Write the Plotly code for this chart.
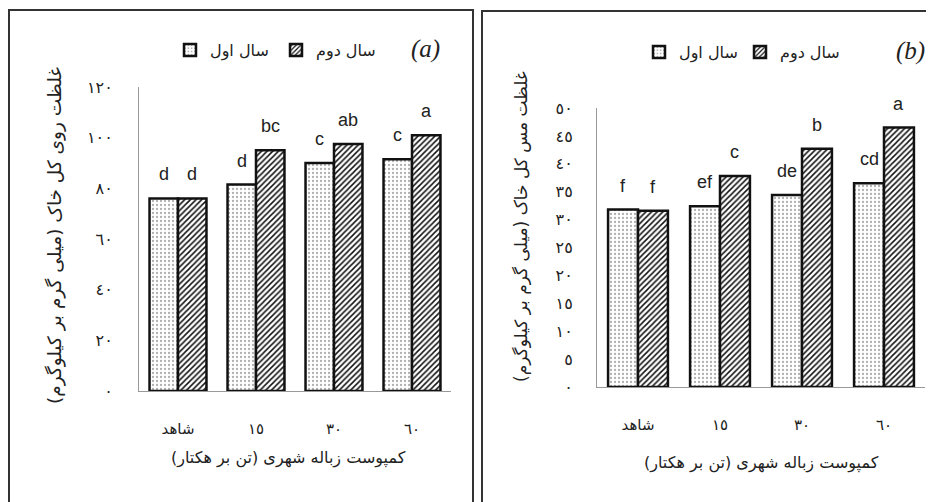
import plotly.graph_objects as go

# ---------------- data ----------------
categories = ["شاهد", "١٥", "٣٠", "٦٠"]
series_names = ["سال اول", "سال دوم"]

zn_year1 = [76, 81.5, 90, 91.5]
zn_year2 = [76, 95, 97.5, 101]
zn_letters_y1 = ["d", "d", "c", "c"]
zn_letters_y2 = ["d", "bc", "ab", "a"]

cu_year1 = [31.8, 32.4, 34.4, 36.5]
cu_year2 = [31.6, 37.8, 42.7, 46.5]
cu_letters_y1 = ["f", "ef", "de", "cd"]
cu_letters_y2 = ["f", "c", "b", "a"]

zn_tickvals = [0, 20, 40, 60, 80, 100, 120]
zn_ticktext = ["٠", "٢٠", "٤٠", "٦٠", "٨٠", "١٠٠", "١٢٠"]
cu_tickvals = [0, 5, 10, 15, 20, 25, 30, 35, 40, 45, 50]
cu_ticktext = ["٠", "٥", "١٠", "١٥", "٢٠", "٢٥", "٣٠", "٣٥", "٤٠", "٤٥", "٥٠"]

zn_ytitle = "غلظت روی کل خاک (میلی گرم بر کیلوگرم)"
cu_ytitle = "غلظت مس کل خاک (میلی گرم بر کیلوگرم)"
xtitle = "کمپوست زباله شهری (تن بر هکتار)"

# ---------------- layout constants ----------------
W, H = 934, 502
OX, OY = 8, 8          # page offset of the plot div
BARGAP = 0.27
FA_FONT = "DejaVu Sans"

def px(x):
    return (x - OX) / W

def py(y):
    return 1 - (y - OY) / H

xs = list(range(len(categories)))
off = (1 - BARGAP) / 4

style1 = dict(color="white",
              line=dict(color="#111", width=2.5),
              pattern=dict(shape=".", fgcolor="#b0b0b0", bgcolor="white", size=4, solidity=0.25))
style2 = dict(color="white",
              line=dict(color="#111", width=2.5),
              pattern=dict(shape="/", fgcolor="#111", bgcolor="white", size=4, solidity=0.38))

fig = go.Figure()

panels = [
    dict(xa="x", ya="y", legend="legend", y1=zn_year1, y2=zn_year2,
         l1=zn_letters_y1, l2=zn_letters_y2),
    dict(xa="x2", ya="y2", legend="legend2", y1=cu_year1, y2=cu_year2,
         l1=cu_letters_y1, l2=cu_letters_y2),
]

for p in panels:
    fig.add_trace(go.Bar(x=xs, y=p["y1"], name=series_names[0], marker=style1,
                         xaxis=p["xa"], yaxis=p["ya"], legend=p["legend"]))
    fig.add_trace(go.Bar(x=xs, y=p["y2"], name=series_names[1], marker=style2,
                         xaxis=p["xa"], yaxis=p["ya"], legend=p["legend"]))

annotations = []
for p in panels:
    for i in xs:
        for dx, val, lab in ((-off, p["y1"][i], p["l1"][i]), (off, p["y2"][i], p["l2"][i])):
            annotations.append(dict(x=i + dx, y=val, xref=p["xa"], yref=p["ya"], text=lab,
                                    showarrow=False, xanchor="center", yanchor="bottom", yshift=12,
                                    font=dict(family="Liberation Sans", size=18, color="#222")))

def paper_text(x, y, text, size, family=FA_FONT, angle=0):
    return dict(x=px(x), y=py(y), xref="paper", yref="paper", text=text, textangle=angle,
                showarrow=False, xanchor="center", yanchor="middle",
                font=dict(family=family, size=size, color="#222"))

annotations += [
    paper_text(55, 236, zn_ytitle, 18.5, angle=-90),
    paper_text(521, 227, cu_ytitle, 17, angle=-90),
    paper_text(288, 458, xtitle, 16),
    paper_text(761, 463, xtitle, 16),
    paper_text(425, 49, "<i>(a)</i>", 25, family="Liberation Serif"),
    paper_text(910, 51, "<i>(b)</i>", 25, family="Liberation Serif"),
]

shapes = [
    dict(type="rect", xref="paper", yref="paper", x0=px(9), x1=px(473), y0=-0.1, y1=py(10),
         line=dict(color="#333", width=2), fillcolor="rgba(0,0,0,0)", layer="below"),
    dict(type="rect", xref="paper", yref="paper", x0=px(482), x1=1.1, y0=-0.1, y1=py(11),
         line=dict(color="#333", width=2), fillcolor="rgba(0,0,0,0)", layer="below"),
]

xaxis_common = dict(tickvals=xs, ticktext=categories, range=[-0.5, len(categories) - 0.5],
                    showline=True, linecolor="#999", linewidth=1, showgrid=False, zeroline=False,
                    ticks="", ticklabelstandoff=24, automargin=False,
                    tickfont=dict(family=FA_FONT, size=15, color="#222"), fixedrange=True)
yaxis_common = dict(showline=True, linecolor="#999", linewidth=1, showgrid=False, zeroline=False,
                    ticks="", automargin=False,
                    tickfont=dict(family=FA_FONT, size=16, color="#222"), fixedrange=True)

legend_common = dict(orientation="h", xanchor="left", yanchor="middle",
                     font=dict(family=FA_FONT, size=16, color="#222"),
                     bgcolor="rgba(0,0,0,0)", borderwidth=0, traceorder="normal",
                     entrywidthmode="pixels")

fig.update_layout(
    template="none",
    width=W, height=H, autosize=False,
    margin=dict(l=0, r=0, t=0, b=0, pad=0, autoexpand=False),
    paper_bgcolor="white", plot_bgcolor="white",
    barmode="group", bargap=BARGAP, bargroupgap=0,
    xaxis=dict(domain=[px(139), px(451)], anchor="y", **xaxis_common),
    yaxis=dict(domain=[py(391), py(87)], anchor="x", range=[0, 120],
               tickvals=zn_tickvals, ticktext=zn_ticktext, ticklabelstandoff=22, **yaxis_common),
    xaxis2=dict(domain=[px(597), px(925)], anchor="y2", **xaxis_common),
    yaxis2=dict(domain=[py(387), py(108)], anchor="x2", range=[0, 50],
                tickvals=cu_tickvals, ticktext=cu_ticktext, ticklabelstandoff=20, **yaxis_common),
    legend=dict(x=px(170), y=py(50), entrywidth=61, **legend_common),
    legend2=dict(x=px(639), y=py(52), entrywidth=56, **legend_common),
    annotations=annotations,
    shapes=shapes,
)

fig.write_html("out.html")
